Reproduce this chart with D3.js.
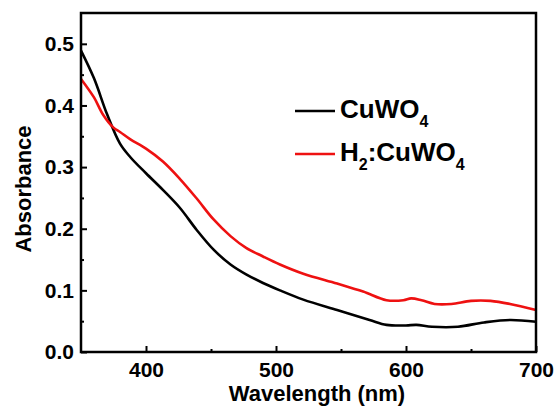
<!DOCTYPE html>
<html>
<head>
<meta charset="utf-8">
<script src="https://cdn.jsdelivr.net/npm/d3@7"></script>
<style>
  body { margin: 0; background: #fff; }
  svg text { font-family: "Liberation Sans", Arial, sans-serif; font-weight: bold; fill: #000; }
</style>
</head>
<body>
<svg id="chart" width="556" height="407"></svg>
<script>
// Absorbance spectra
const cuwoNm  = [350, 360, 370, 380, 388, 400, 413, 426, 439, 452, 465, 477, 490, 503, 521, 547, 572, 585, 600, 608, 620, 640, 660, 680, 700];
const cuwoAbs = [0.489, 0.444, 0.386, 0.338, 0.316, 0.29, 0.263, 0.234, 0.198, 0.166, 0.142, 0.126, 0.112, 0.10, 0.085, 0.068, 0.052, 0.044, 0.043, 0.044, 0.041, 0.041, 0.048, 0.052, 0.049];

const h2Nm  = [350, 360, 367, 375, 380, 388, 400, 413, 426, 439, 452, 465, 477, 490, 503, 521, 547, 567, 585, 598, 604, 612, 622, 635, 650, 665, 680, 700];
const h2Abs = [0.443, 0.413, 0.385, 0.364, 0.357, 0.345, 0.33, 0.309, 0.281, 0.249, 0.215, 0.188, 0.169, 0.155, 0.142, 0.127, 0.111, 0.098, 0.084, 0.084, 0.087, 0.084, 0.078, 0.078, 0.083, 0.083, 0.078, 0.068];

const xMajor = [400, 500, 600, 700];
const xMinor = [450, 550, 650];
const yMajor = [0, 0.1, 0.2, 0.3, 0.4, 0.5];
const yMinor = [0.05, 0.15, 0.25, 0.35, 0.45];

const svg = d3.select('#chart');
const m = { left: 81, right: 536, top: 13, bottom: 352 };

const x = d3.scaleLinear().domain([350, 700]).range([m.left, m.right]);
const y = d3.scaleLinear().domain([0, 0.55]).range([m.bottom, m.top]);

// major + minor ticks, all pointing inward
function styleAxis(g) {
  g.select('.domain').remove();
  g.selectAll('line').attr('stroke', '#000').attr('stroke-width', 2);
  g.selectAll('text').style('font-size', '21px').style('font-family', '"Liberation Sans", Arial, sans-serif').style('font-weight', 'bold');
}

svg.append('g')
  .attr('transform', `translate(0,${m.bottom})`)
  .call(d3.axisBottom(x).tickValues(xMajor).tickSize(-6).tickPadding(10).tickFormat(d3.format('d')))
  .call(styleAxis);
svg.append('g')
  .attr('transform', `translate(0,${m.bottom})`)
  .call(d3.axisBottom(x).tickValues(xMinor).tickSize(-3).tickFormat(''))
  .call(styleAxis);

svg.append('g')
  .attr('transform', `translate(${m.left},0)`)
  .call(d3.axisLeft(y).tickValues(yMajor).tickSize(-6).tickPadding(7).tickFormat(d3.format('.1f')))
  .call(styleAxis);
svg.append('g')
  .attr('transform', `translate(${m.left},0)`)
  .call(d3.axisLeft(y).tickValues(yMinor).tickSize(-3).tickFormat(''))
  .call(styleAxis);

// curves
const line = d3.line()
  .x(d => x(d[0]))
  .y(d => y(d[1]))
  .curve(d3.curveCatmullRom.alpha(0.5));

const series = [
  { nm: cuwoNm, abs: cuwoAbs, color: '#000000' },
  { nm: h2Nm, abs: h2Abs, color: '#ee1111' }
];

series.forEach(s => {
  svg.append('path')
    .datum(s.nm.map((v, i) => [v, s.abs[i]]))
    .attr('fill', 'none')
    .attr('stroke', s.color)
    .attr('stroke-width', 2.6)
    .attr('d', line);
});

// frame
svg.append('rect')
  .attr('x', m.left).attr('y', m.top)
  .attr('width', m.right - m.left).attr('height', m.bottom - m.top)
  .attr('fill', 'none').attr('stroke', '#000').attr('stroke-width', 2.5);

// axis titles
svg.append('text')
  .attr('x', 317).attr('y', 401)
  .attr('text-anchor', 'middle')
  .style('font-size', '22px')
  .text('Wavelength (nm)');

svg.append('text')
  .attr('transform', 'translate(31,189) rotate(-90)')
  .attr('text-anchor', 'middle')
  .style('font-size', '22px')
  .text('Absorbance');

// legend
const legend = svg.append('g');
const legendRows = [
  { color: '#000000', y: 111, parts: [['CuWO', 0], ['4', 1]] },
  { color: '#ee1111', y: 154, parts: [['H', 0], ['2', 1], [':CuWO', 0], ['4', 1]] }
];
legendRows.forEach(r => {
  legend.append('line')
    .attr('x1', 295).attr('x2', 335)
    .attr('y1', r.y).attr('y2', r.y)
    .attr('stroke', r.color).attr('stroke-width', 2.6);
  const t = legend.append('text')
    .attr('x', 340).attr('y', r.y + 7)
    .style('font-size', '26px');
  r.parts.forEach(p => {
    const ts = t.append('tspan').text(p[0]);
    if (p[1]) ts.attr('dy', 9).style('font-size', '16px');
    else ts.attr('dy', ts.node().previousSibling ? -9 : 0);
  });
});
</script>
</body>
</html>
